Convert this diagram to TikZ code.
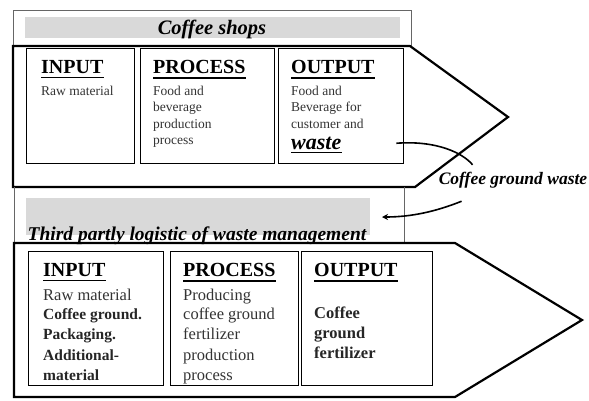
\documentclass[tikz,border=0pt]{standalone}
\usepackage{fontspec}
\setmainfont{Liberation Serif}
\usepackage{tikz}
\usetikzlibrary{arrows.meta,positioning,calc}
\definecolor{cBand}{HTML}{D9D9D9}
\definecolor{cTxt}{HTML}{333333}
\tikzset{
  frame/.style ={draw=black!60,line width=0.8pt},
  band/.style  ={fill=cBand,draw=none},
  arrowbox/.style={draw=black,line width=2.2pt,line join=miter},
  stage/.style ={draw=black,line width=1.3pt,inner sep=0pt,anchor=north west},
  head/.style  ={font=\fontsize{20}{22}\selectfont\bfseries,inner sep=0pt,anchor=north west},
  rule/.style  ={line width=1.6pt},
  body/.style  ={font=\fontsize{13.5}{16.5}\selectfont,text=cTxt,align=left,inner sep=0pt},
  bodyl/.style ={font=\fontsize{16.5}{19.5}\selectfont,text=cTxt,align=left,inner sep=0pt},
  ttl/.style   ={font=\fontsize{20.5}{22}\selectfont\bfseries\itshape,inner sep=0pt},
  flow/.style  ={line width=1.6pt},
}
\newcommand\bl[1]{{\fontsize{15.5}{19.5}\selectfont\bfseries\color{black!85}#1}}
\begin{document}
\begin{tikzpicture}[x=1pt,y=-1pt]
\useasboundingbox (0,0) rectangle (589,400);

% coffee shops
\draw[frame] (13,46) |- (411,10) -- (411,46);
\fill[band] (25,17) rectangle (400,38);
\node[ttl] (shop) at (212,29) {Coffee shops};
\draw[arrowbox] (13,46) -- (410,46) -- (508,117) -- (415,187) -- (13,187) -- cycle;

\node[stage,minimum width=108pt,minimum height=115pt] (in1)  at (26,48)  {};
\node[stage,minimum width=134pt,minimum height=115pt] (pr1)  at (140,48) {};
\node[stage,minimum width=125pt,minimum height=115pt] (out1) at (278,48) {};

\node[head] (hin1)  at ($(in1.north west)+(15,12)$)  {INPUT};
\node[head] (hpr1)  at ($(pr1.north west)+(13,12)$)  {PROCESS};
\node[head] (hout1) at ($(out1.north west)+(13,12)$) {OUTPUT};
\foreach \h in {hin1,hpr1,hout1}
  \draw[rule] ($(\h.south west)+(0,4)$) -- ($(\h.south east)+(0,4)$);

\node[body,below=12pt of hin1.south west,anchor=north west] (bin1) {Raw material};
\node[body,below=12pt of hpr1.south west,anchor=north west] (bpr1)
  {Food and\\ beverage\\ production\\ process};
\node[body,below=12pt of hout1.south west,anchor=north west] (bout1)
  {Food and\\ Beverage for\\ customer and};
\node[font=\fontsize{22}{24}\selectfont\bfseries\itshape,inner sep=0pt,
  below=8pt of bout1.south west,anchor=north west] (wst) {waste};
\draw[line width=1.2pt] ($(wst.south west)+(0,3)$) -- ($(wst.south east)+(0,3)$);

% third party logistic
\draw[frame] (14,187) -- (14,243);
\draw[frame] (404,187) -- (404,243);
\fill[band] (26,198) rectangle (370,235);
\node[ttl,font=\fontsize{19.5}{22}\selectfont\bfseries\itshape,anchor=base] (tpl) at (197,240)
  {Third partly logistic of waste management};
\draw[arrowbox] (14,243) -- (455,243) -- (582,320) -- (455,397) -- (14,397) -- cycle;

\node[stage,minimum width=135pt,minimum height=134pt] (in2)  at (28,251)  {};
\node[stage,minimum width=128pt,minimum height=134pt] (pr2)  at (170,251) {};
\node[stage,minimum width=131pt,minimum height=134pt] (out2) at (301,251) {};

\node[head] (hin2)  at ($(in2.north west)+(15,12)$)  {INPUT};
\node[head] (hpr2)  at ($(pr2.north west)+(13,12)$)  {PROCESS};
\node[head] (hout2) at ($(out2.north west)+(13,12)$) {OUTPUT};
\foreach \h in {hin2,hpr2,hout2}
  \draw[rule] ($(\h.south west)+(0,4)$) -- ($(\h.south east)+(0,4)$);

\node[bodyl,below=12pt of hin2.south west,anchor=north west] (bin2)
  {Raw material\\ \bl{Coffee ground.}\\ \bl{Packaging.}\\[2pt] \bl{Additional-}\\ \bl{material}};
\node[bodyl,below=12pt of hpr2.south west,anchor=north west] (bpr2)
  {Producing\\ coffee ground\\ fertilizer\\[2pt] production\\ process};
\node[bodyl,font=\fontsize{16.5}{20}\selectfont\bfseries,text=black!85,
  below=30pt of hout2.south west,anchor=north west] (bout2)
  {Coffee\\ ground\\ fertilizer};

% waste flow
\node[font=\fontsize{17.5}{20}\selectfont\bfseries\itshape,fill=white,inner sep=1pt] (cgw) at (513,180) {Coffee ground waste};
\coordinate (tip) at (382,217);
\draw[flow] ($(wst.east -| out1.east)+(-8,0)$) .. controls +(40,-3) and +(-10,-12) .. ($(cgw.north west)+(35,-6)$);
\draw[flow,-{Stealth[length=6pt,width=6pt]}] ($(cgw.south west)+(24,12)$) .. controls +(-25,10) and +(30,0) .. (tip);
\end{tikzpicture}
\end{document}
